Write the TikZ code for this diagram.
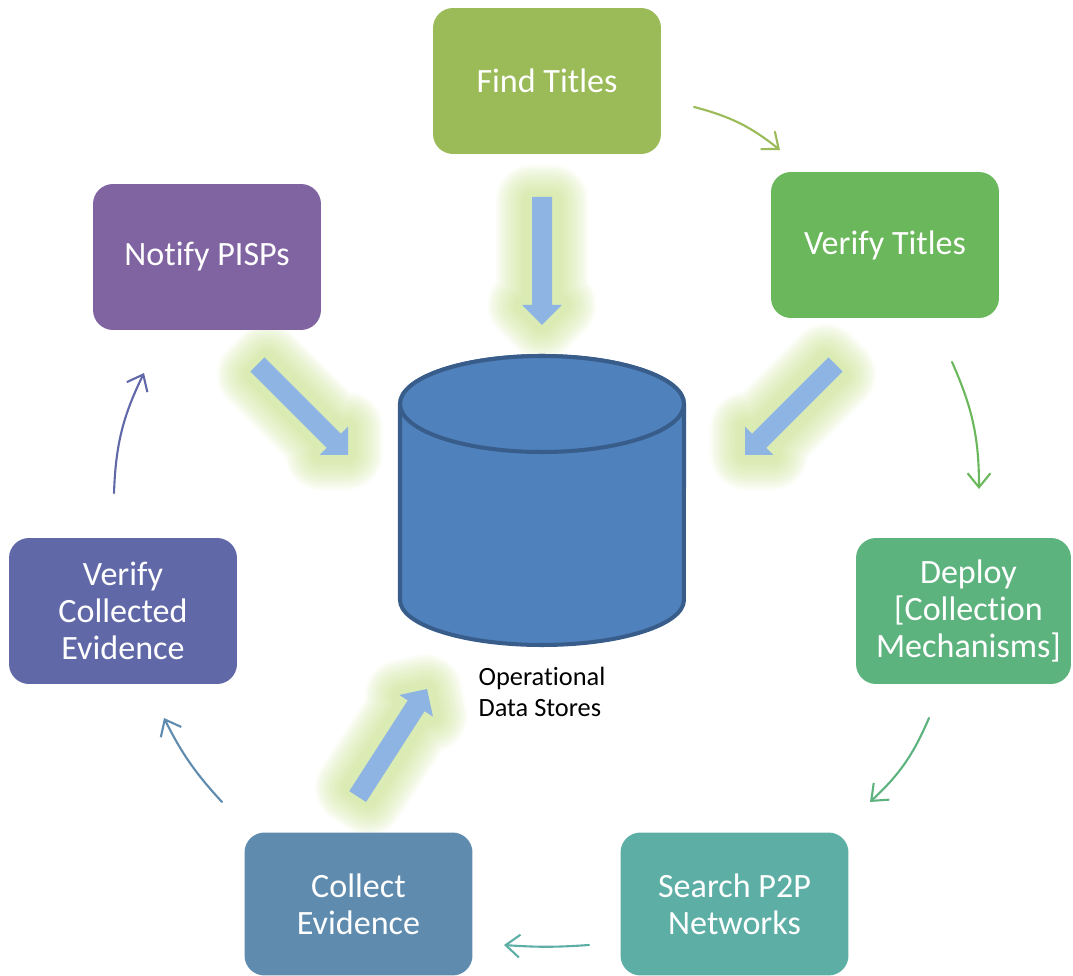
\documentclass[tikz,border=0pt]{standalone}
\usepackage{fontspec}
\setmainfont{Carlito}[Ligatures=NoCommon]
\usetikzlibrary{arrows.meta}

% stage colours
\definecolor{cFind}{HTML}{9BBB59}
\definecolor{cVerT}{HTML}{6BB75B}
\definecolor{cDepl}{HTML}{5DB37E}
\definecolor{cSrch}{HTML}{5DAFA6}
\definecolor{cColl}{HTML}{5F8BAE}
\definecolor{cVerC}{HTML}{6068A8}
\definecolor{cNoti}{HTML}{8064A2}
% data store and feed arrows
\definecolor{cylFill}{HTML}{4F81BD}
\definecolor{cylLine}{HTML}{385D8A}
\definecolor{feedFill}{HTML}{8EB4E3}
\definecolor{feedGlow}{RGB}{196,222,130}

\tikzset{
  stage/.style={rounded corners=0.4cm, minimum width=4.56cm, minimum height=2.92cm,
    inner sep=0pt, text=white, align=center,
    font=\fontsize{19.4}{21}\selectfont},
  flow/.style={-{Straight Barb[length=8pt,width=13pt]}, line width=1.2pt, line cap=round},
  dslabel/.style={align=left, inner sep=0pt, font=\fontsize{15}{18}\selectfont},
  pics/feedarrow/.style={code={
    % soft glow: stacked translucent outlines
    \foreach \w in {1.45,1.35,...,0.35}{
      \draw[feedGlow, line width=\w cm, opacity=0.075, line join=round]
        (-2,0) -- (-20,-18) -- (-20,-10) -- (-124,-10) -- (-124,10) -- (-20,10) -- (-20,18) -- cycle;
    }
    \fill[feedFill]
      (0,0) -- (-20,-20) -- (-20,-10) -- (-128,-10) -- (-128,10) -- (-20,10) -- (-20,20) -- cycle;
  }}
}

\begin{document}
\begin{tikzpicture}[x=0.02cm, y=-0.02cm]
\useasboundingbox (0,0) rectangle (1073,976);

% feed arrows into the data store
\pic[rotate=-90] at (542,325) {feedarrow};
\pic[rotate=-45] at (348,455) {feedarrow};
\pic[rotate=-135] at (745,455) {feedarrow};
\pic[rotate=57.2] at (427,689) {feedarrow};

% operational data store cylinder
\path[fill=cylFill, draw=cylLine, line width=2.3pt, line join=round]
  (400,404) -- (400,600) arc[start angle=180, end angle=360, x radius=2.84cm, y radius=0.9cm]
  -- (684,404) arc[start angle=0, end angle=180, x radius=2.84cm, y radius=0.96cm] -- cycle;
\path[fill=cylFill, draw=cylLine, line width=2.3pt]
  (542,404) ellipse [x radius=2.84cm, y radius=0.96cm];
\node[dslabel] (ods) at (542,692) {Operational\\Data Stores};

% process stages
\node[stage, fill=cFind] (find) at (547,81) {Find Titles};
\node[stage, fill=cVerT] (vert) at (885,245) {Verify Titles};
\node[stage, fill=cDepl, minimum width=4.3cm] (depl) at (963.5,611)
  {\hspace*{0.2cm}Deploy\\\hspace*{0.2cm}{}[Collection\\\hspace*{0.2cm}Mechanisms]};
\node[stage, fill=cSrch, minimum height=2.86cm] (srch) at (734.5,904) {Search P2P\\Networks};
\node[stage, fill=cColl, minimum height=2.86cm] (coll) at (358.5,904) {Collect\\Evidence};
\node[stage, fill=cVerC] (verc) at (123,611) {Verify\\Collected\\Evidence};
\node[stage, fill=cNoti] (noti) at (207,257) {Notify PISPs};

% cycle connector ends
\coordinate (a1) at (694,107);  \coordinate (b1) at (780,150);
\coordinate (a2) at (952,362);  \coordinate (b2) at (979,489);
\coordinate (a3) at (929,718);  \coordinate (b3) at (870,802);
\coordinate (a4) at (589,945);  \coordinate (b4) at (504,945);
\coordinate (a5) at (222,802);  \coordinate (b5) at (164,718);
\coordinate (a6) at (114,493);  \coordinate (b6) at (144,373);

\draw[flow, cFind] (a1) to[bend left=12] (b1);
\draw[flow, cVerT] (a2) to[bend left=12] (b2);
\draw[flow, cDepl] (a3) to[bend left=12] (b3);
\draw[flow, cSrch] (a4) to[bend left=4] (b4);
\draw[flow, cColl] (a5) to[bend left=8] (b5);
\draw[flow, cVerC] (a6) to[bend left=12] (b6);
\end{tikzpicture}
\end{document}
